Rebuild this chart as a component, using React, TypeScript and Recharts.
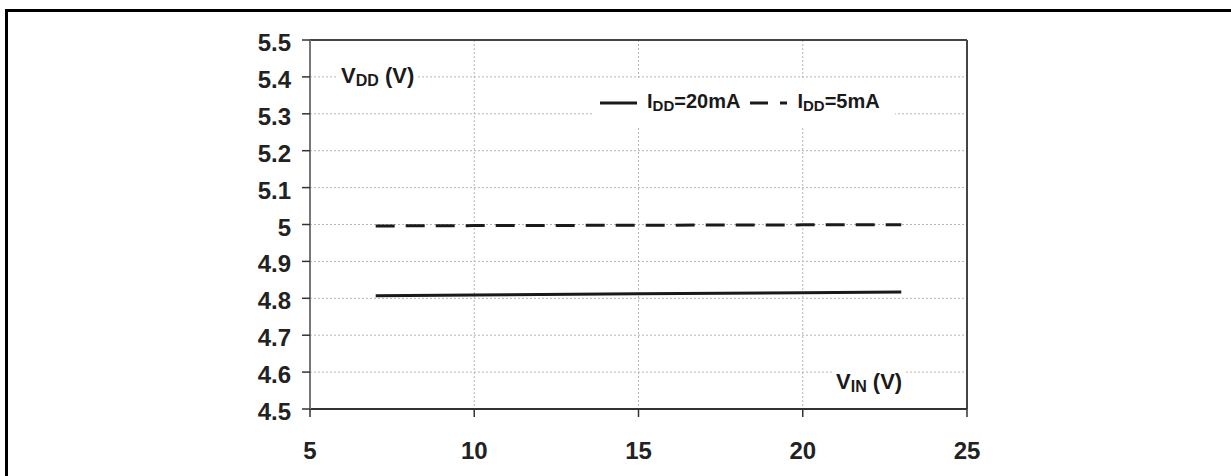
import React from "react";
import {
  CartesianGrid,
  Legend,
  Line,
  LineChart,
  ReferenceLine,
  XAxis,
  YAxis,
} from "recharts";

const FONT = '"Liberation Sans", Arial, Helvetica, sans-serif';
const INK = "#1a1a1a";

// VIN (V) sample points
const VIN = [7, 10, 15, 20, 23];
// VDD (V) at IDD = 20 mA
const VDD_20MA = [4.807, 4.809, 4.812, 4.815, 4.817];
// VDD (V) at IDD = 5 mA
const VDD_5MA = [4.996, 4.997, 4.998, 4.999, 4.999];

const X_TICKS = [5, 10, 15, 20, 25];
const Y_TICKS = [4.5, 4.6, 4.7, 4.8, 4.9, 5, 5.1, 5.2, 5.3, 5.4, 5.5];

const SERIES = [
  { key: "i20", main: "I", sub: "DD", rest: "=20mA", dash: undefined },
  { key: "i5", main: "I", sub: "DD", rest: "=5mA", dash: "19 11" },
];

const data = VIN.map((v, i) => ({ vin: v, i20: VDD_20MA[i], i5: VDD_5MA[i] }));

const Sub = ({ children, size = 15 }: { children: React.ReactNode; size?: number }) => (
  <span style={{ fontSize: size, position: "relative", top: 3 }}>{children}</span>
);

function YTick({ x, y, payload }: any) {
  return (
    <text x={x} y={y} dy={11} textAnchor="end" fontFamily={FONT} fontWeight={700} fontSize={24} fill="#222">
      {payload.value}
    </text>
  );
}

function XTick({ x, y, payload }: any) {
  return (
    <text x={x} y={y + 42} textAnchor="middle" fontFamily={FONT} fontWeight={700} fontSize={24} fill="#222">
      {payload.value}
    </text>
  );
}

function LegendBox() {
  return (
    <div
      style={{
        background: "#fff",
        width: 302,
        height: 48,
        display: "flex",
        alignItems: "center",
        fontFamily: FONT,
        fontWeight: 700,
        fontSize: 20,
        color: INK,
        boxSizing: "border-box",
        paddingLeft: 7,
      }}
    >
      {SERIES.map((s) => (
        <span key={s.key} style={{ display: "inline-flex", alignItems: "center", marginRight: 10 }}>
          <svg width={37} height={6} style={{ marginRight: 10 }}>
            <line x1={0} y1={3} x2={37} y2={3} stroke={INK} strokeWidth={3} strokeDasharray={s.dash ? "18 12" : undefined} />
          </svg>
          <span style={{ position: "relative", top: -2 }}>
            {s.main}
            <Sub>{s.sub}</Sub>
            {s.rest}
          </span>
        </span>
      ))}
    </div>
  );
}

const labelStyle: React.CSSProperties = {
  position: "absolute",
  background: "#fff",
  fontFamily: FONT,
  fontWeight: 700,
  fontSize: 22,
  color: INK,
  lineHeight: "26px",
  padding: "0 4px",
  whiteSpace: "nowrap",
};

export default function App() {
  return (
    <div style={{ position: "absolute", left: 0, top: 0, width: 1231, height: 476, background: "#fff", overflow: "hidden" }}>
      <div
        style={{
          position: "absolute",
          left: 5,
          top: 9,
          width: 1226,
          height: 467,
          borderTop: "3px solid #000",
          borderLeft: "3px solid #000",
        }}
      />
      <LineChart width={1231} height={476} data={data} margin={{ top: 40, right: 264, bottom: 27, left: 250 }}>
        <CartesianGrid stroke="#b5b5b5" strokeDasharray="2 2" strokeWidth={1} />
        <XAxis
          dataKey="vin"
          type="number"
          domain={[5, 25]}
          ticks={X_TICKS}
          height={40}
          tickSize={8}
          tickMargin={0}
          tick={<XTick />}
          axisLine={{ stroke: "#333", strokeWidth: 2 }}
          tickLine={{ stroke: "#333", strokeWidth: 1.5 }}
        />
        <YAxis
          type="number"
          domain={[4.5, 5.5]}
          ticks={Y_TICKS}
          width={60}
          tickSize={8}
          tickMargin={11}
          tick={<YTick />}
          axisLine={{ stroke: "#777", strokeWidth: 2 }}
          tickLine={{ stroke: "#333", strokeWidth: 1.5 }}
        />
        <ReferenceLine y={5.5} stroke="#444" strokeWidth={2} />
        <ReferenceLine x={25} stroke="#444" strokeWidth={2} />
        <Line dataKey="i20" stroke={INK} strokeWidth={3} dot={false} isAnimationActive={false} />
        <Line dataKey="i5" stroke={INK} strokeWidth={3} strokeDasharray="19 11" dot={false} isAnimationActive={false} />
        <Legend
          layout="horizontal"
          verticalAlign="middle"
          align="center"
          content={() => <LegendBox />}
          wrapperStyle={{ left: 593, top: 79, width: 302, height: 48 }}
        />
      </LineChart>
      <div style={{ ...labelStyle, left: 337, top: 63 }}>
        V<Sub size={16}>DD</Sub> (V)
      </div>
      <div style={{ ...labelStyle, left: 832, top: 369 }}>
        V<Sub size={16}>IN</Sub> (V)
      </div>
    </div>
  );
}
